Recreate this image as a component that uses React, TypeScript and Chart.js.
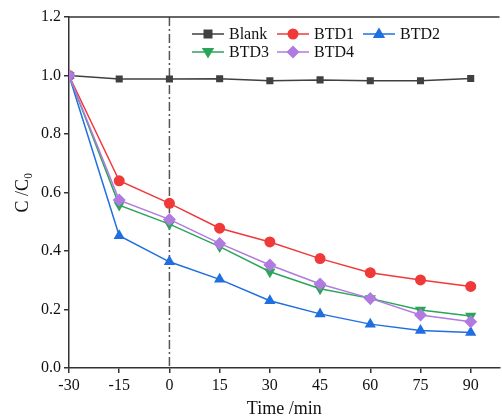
import React, { useEffect, useRef } from "react";
import { Chart, registerables } from "chart.js";

Chart.register(...registerables);

const TIMES = [-30, -15, 0, 15, 30, 45, 60, 75, 90];
const X_TICKS = [-30, -15, 0, 15, 30, 45, 60, 75, 90];
const Y_TICKS = [0, 0.2, 0.4, 0.6, 0.8, 1.0, 1.2];
const BLANK = [1.0, 0.988, 0.988, 0.989, 0.982, 0.985, 0.982, 0.982, 0.99];
const BTD1 = [1.0, 0.64, 0.563, 0.478, 0.431, 0.374, 0.326, 0.301, 0.279];
const BTD2 = [1.0, 0.452, 0.363, 0.303, 0.23, 0.185, 0.15, 0.128, 0.121];
const BTD3 = [1.0, 0.557, 0.492, 0.415, 0.329, 0.271, 0.238, 0.198, 0.178];
const BTD4 = [1.0, 0.574, 0.508, 0.426, 0.352, 0.287, 0.238, 0.181, 0.158];

const SERIES = [
  { label: "Blank", data: BLANK, color: "#404040", style: "rect", rot: 0, r: 5 },
  { label: "BTD1", data: BTD1, color: "#f03a3a", style: "circle", rot: 0, r: 5.5 },
  { label: "BTD2", data: BTD2, color: "#1f6fe0", style: "triangle", rot: 0, r: 6.5 },
  { label: "BTD3", data: BTD3, color: "#2aa55a", style: "triangle", rot: 180, r: 6.5 },
  { label: "BTD4", data: BTD4, color: "#b07ae0", style: "rectRot", rot: 0, r: 6.5 },
];

const FONT = "'Liberation Serif', 'Times New Roman', serif";

function drawMarker(ctx: CanvasRenderingContext2D, style: string, r: number, rot: number, x: number, y: number) {
  ctx.beginPath();
  if (style === "rect") {
    const s = r * 0.9;
    ctx.rect(x - s, y - s, 2 * s, 2 * s);
  } else if (style === "circle") {
    ctx.arc(x, y, r, 0, Math.PI * 2);
  } else if (style === "triangle") {
    const sign = rot === 180 ? -1 : 1;
    ctx.moveTo(x, y - sign * r);
    ctx.lineTo(x + r * 0.95, y + sign * r * 0.6);
    ctx.lineTo(x - r * 0.95, y + sign * r * 0.6);
    ctx.closePath();
  } else if (style === "rectRot") {
    ctx.moveTo(x, y - r);
    ctx.lineTo(x + r, y);
    ctx.lineTo(x, y + r);
    ctx.lineTo(x - r, y);
    ctx.closePath();
  }
  ctx.fill();
}

const extras = {
  id: "extras",
  beforeDatasetsDraw(chart: any) {
    const { ctx, chartArea } = chart;
    const xs = chart.scales.x;
    const x0 = xs.getPixelForValue(0);
    ctx.save();
    ctx.strokeStyle = "#555555";
    ctx.lineWidth = 1.5;
    ctx.setLineDash([9, 3, 2, 3]);
    ctx.beginPath();
    ctx.moveTo(x0, chartArea.top);
    ctx.lineTo(x0, chartArea.bottom);
    ctx.stroke();
    ctx.setLineDash([]);
    ctx.strokeStyle = "#333333";
    ctx.lineWidth = 1.5;
    ctx.beginPath();
    ctx.moveTo(chartArea.left, chartArea.top);
    ctx.lineTo(chartArea.right, chartArea.top);
    ctx.stroke();
    ctx.restore();
  },
  afterDraw(chart: any) {
    const { ctx } = chart;
    const pos = [
      [192, 34],
      [277, 34],
      [363, 34],
      [192, 52],
      [277, 52],
    ];
    ctx.save();
    SERIES.forEach((s, i) => {
      const [lx, ly] = pos[i];
      ctx.strokeStyle = s.color;
      ctx.lineWidth = 1.5;
      ctx.beginPath();
      ctx.moveTo(lx, ly);
      ctx.lineTo(lx + 32, ly);
      ctx.stroke();
      ctx.fillStyle = s.color;
      drawMarker(ctx, s.style, s.r, s.rot, lx + 16, ly);
      ctx.fillStyle = "#111111";
      ctx.font = `16px ${FONT}`;
      ctx.textBaseline = "middle";
      ctx.textAlign = "left";
      ctx.fillText(s.label, lx + 37, ly + 1);
    });
    ctx.restore();
  },
};

export default function App() {
  const ref = useRef<HTMLCanvasElement | null>(null);
  useEffect(() => {
    if (!ref.current) return;
    const chart = new Chart(ref.current, {
      type: "line",
      data: {
        datasets: SERIES.map((s, i) => ({
          label: s.label,
          data: TIMES.map((t, j) => ({ x: t, y: s.data[j] })),
          borderColor: s.color,
          backgroundColor: s.color,
          borderWidth: 1.5,
          pointStyle: s.style as any,
          pointRotation: s.rot,
          pointRadius: s.r,
          pointBorderWidth: 0,
          tension: 0,
          order: 5 - i,
        })),
      },
      options: {
        animation: false,
        responsive: false,
        layout: { padding: { top: 17, right: 0, left: 0, bottom: 0 } },
        plugins: { legend: { display: false }, tooltip: { enabled: false } },
        scales: {
          x: {
            type: "linear",
            min: -30,
            max: 98.6,
            afterBuildTicks: (scale: any) => {
              scale.ticks = X_TICKS.map((v) => ({ value: v }));
            },
            afterFit: (scale: any) => {
              scale.height = 52;
            },
            grid: { display: true, drawOnChartArea: false, drawTicks: true, tickLength: 5, color: "#333333", lineWidth: 1.5 },
            border: { display: true, color: "#333333", width: 1.5 },
            ticks: { color: "#111111", font: { family: FONT, size: 16 }, padding: 3, maxRotation: 0, autoSkip: false },
            title: { display: true, text: "Time /min", color: "#111111", font: { family: FONT, size: 18 }, padding: { top: 0, bottom: 0 } },
          },
          y: {
            min: 0,
            max: 1.2,
            afterBuildTicks: (scale: any) => {
              scale.ticks = Y_TICKS.map((v) => ({ value: v }));
            },
            afterFit: (scale: any) => {
              scale.width = 69;
            },
            grid: { display: true, drawOnChartArea: false, drawTicks: true, tickLength: 5, color: "#333333", lineWidth: 1.5 },
            border: { display: true, color: "#333333", width: 1.5 },
            ticks: { color: "#111111", font: { family: FONT, size: 16 }, padding: 3, callback: (v: any) => Number(v).toFixed(1) },
            title: { display: true, text: "C /C₀", color: "#111111", font: { family: FONT, size: 18 }, padding: { top: 12, bottom: 0 } },
          },
        },
      },
      plugins: [extras],
    });
    return () => chart.destroy();
  }, []);
  return (
    <div style={{ position: "absolute", left: 0, top: 0, width: 502, height: 420, overflow: "hidden", background: "#ffffff" }}>
      <canvas ref={ref} width={506} height={420} />
    </div>
  );
}
